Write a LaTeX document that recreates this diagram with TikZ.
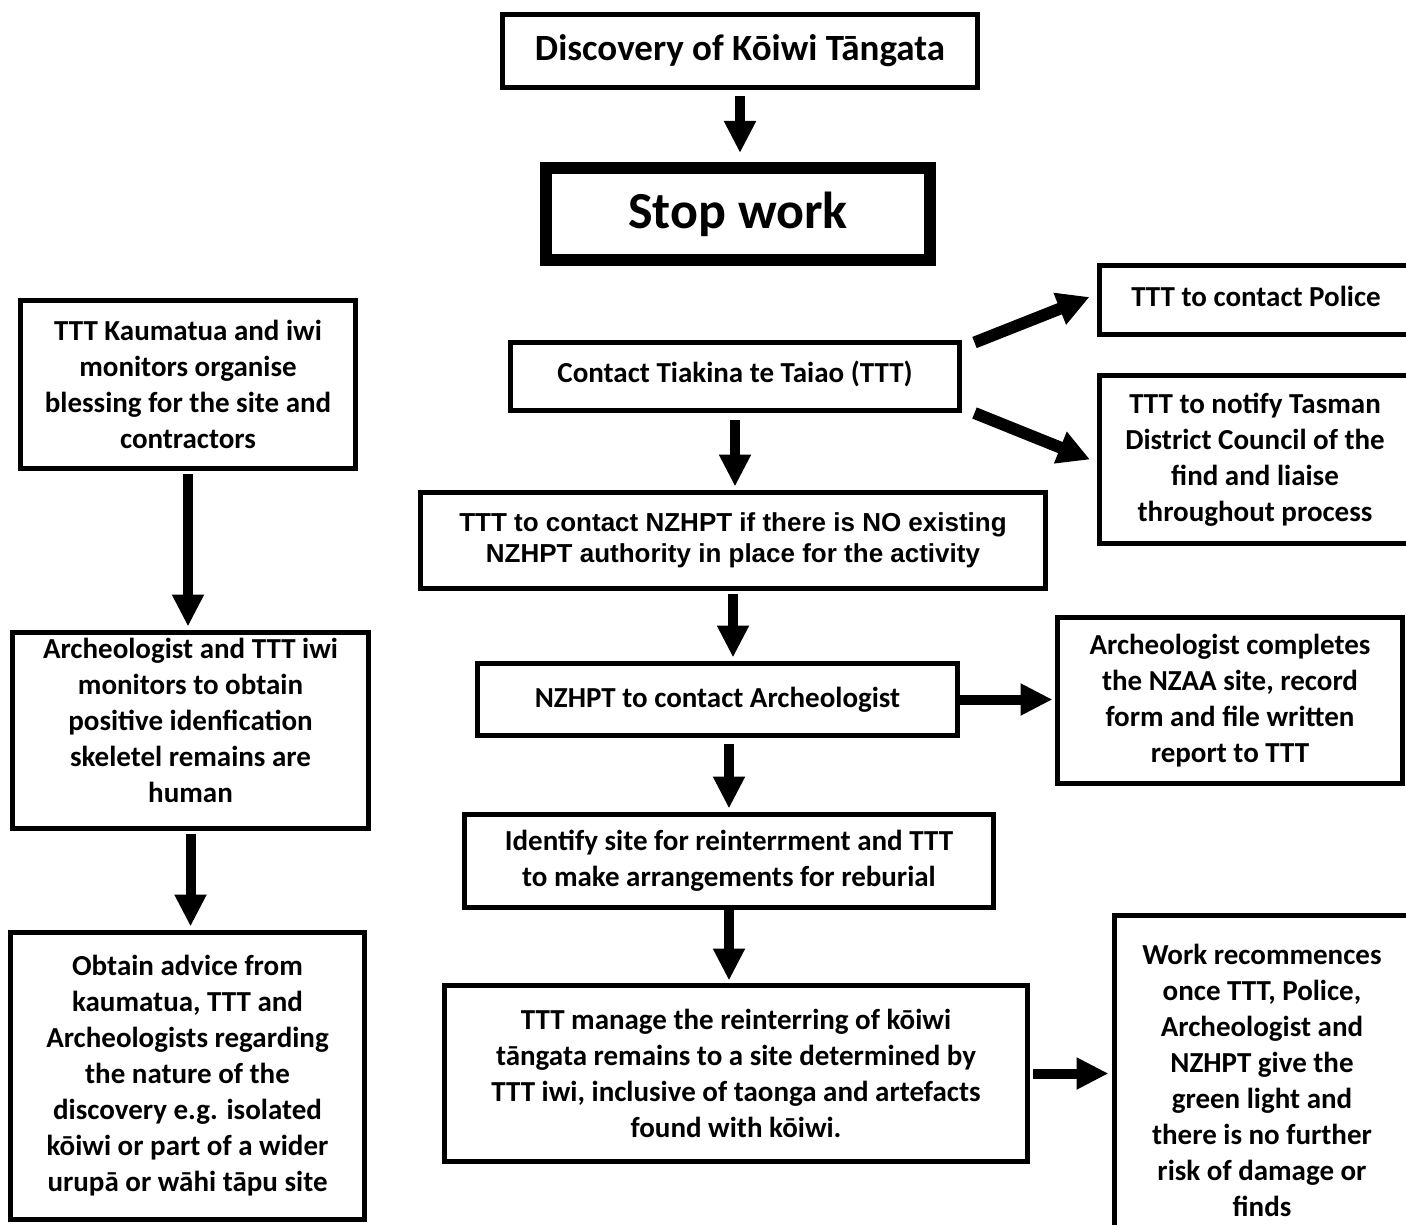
\documentclass[tikz,border=0pt]{standalone}
\usepackage{fontspec}
\setmainfont{Carlito}
\newfontfamily\arialfont{Liberation Sans}
\usetikzlibrary{arrows.meta}

\begin{document}
\begin{tikzpicture}[x=1pt,y=-1pt,
  box/.style={draw, line width=5pt, align=center, inner sep=0pt,
    font=\bfseries\fontsize{29}{36}\selectfont},
  arr/.style={line width=10pt, -{Triangle[width=30pt,length=32pt]},
    shorten <=3pt, shorten >=3.5pt}]
\useasboundingbox (0,0) rectangle (1406,1225);
\node [box, minimum width=475pt, minimum height=73pt, font=\bfseries\fontsize{37}{44}\selectfont] (disc) at (740,51) {Discovery of Kōiwi Tāngata};
\node [box, line width=12pt, minimum width=384pt, minimum height=92pt, font=\bfseries\fontsize{52}{60}\selectfont] (stop) at (738,214) {Stop work};
\node [box, minimum width=449pt, minimum height=68pt] (contact) at (735,376.5) {Contact Tiakina te Taiao (TTT)\\[-26pt]\mbox{}};
\node [box, minimum width=313pt, minimum height=69pt] (police) at (1256,300) {TTT to contact Police\\[-28pt]\mbox{}};
\node [box, minimum width=312pt, minimum height=168pt] (notify) at (1255,459.5) {TTT to notify Tasman\\District Council of the\\find and liaise\\throughout process};
\node [box, minimum width=625pt, minimum height=96pt, font=\arialfont\bfseries\fontsize{26}{31}\selectfont] (nzhpt) at (733,540.5) {TTT to contact NZHPT if there is NO existing\\NZHPT authority in place for the activity};
\node [box, minimum width=480pt, minimum height=72pt] (nzarch) at (717.5,699.5) {NZHPT to contact Archeologist};
\node [box, minimum width=345pt, minimum height=166pt] (record) at (1230,700.5) {Archeologist completes\\the NZAA site, record\\form and file written\\report to TTT};
\node [box, minimum width=529pt, minimum height=93pt] (identify) at (729,861) {Identify site for reinterrment and TTT\\to make arrangements for reburial};
\node [box, minimum width=583pt, minimum height=176pt] (manage) at (736,1073.5) {TTT manage the reinterring of kōiwi\\tāngata remains to a site determined by\\TTT iwi, inclusive of taonga and artefacts\\found with kōiwi.};
\node [box, minimum width=295pt, minimum height=330pt] (work) at (1262,1080) {Work recommences\\once TTT, Police,\\Archeologist and\\NZHPT give the\\green light and\\there is no further\\risk of damage or\\finds};
\node [box, minimum width=335pt, minimum height=168pt] (kaum) at (188,384.5) {TTT Kaumatua and iwi\\monitors organise\\blessing for the site and\\contractors};
\node [box, minimum width=356pt, minimum height=196pt] (archiwi) at (190.5,730.5) {Archeologist and TTT iwi\\monitors to obtain\\positive idenfication\\skeletel remains are\\human\\[-16pt]\mbox{}};
\node [box, minimum width=354pt, minimum height=287pt] (advice) at (187.5,1076) {Obtain advice from\\kaumatua, TTT and\\Archeologists regarding\\the nature of the\\discovery e.g. isolated\\kōiwi or part of a wider\\urupā or wāhi tāpu site};
\draw [arr, shorten <=6pt, shorten >=9pt] (disc.south) -- (disc.south |- stop.north);
\draw [arr, line width=12pt, -{Triangle[width=32pt,length=32pt]}, shorten <=0pt, shorten >=0pt] ([xshift=12.5pt,yshift=-2.5pt]contact.north east) -- ([xshift=-7.5pt,yshift=3pt]police.west);
\draw [arr, line width=12pt, -{Triangle[width=32pt,length=32pt]}, shorten <=0pt, shorten >=0pt] ([xshift=12.5pt]contact.south east) -- ([xshift=-6.5pt]notify.west);
\draw [arr, shorten <=7pt] (contact.south) -- (contact.south |- nzhpt.north);
\draw [arr] (nzhpt.south) -- (nzhpt.south |- nzarch.north);
\draw [arr, shorten <=0pt, shorten >=2.5pt] (nzarch.east) -- (nzarch.east -| record.west);
\draw [arr, shorten <=6pt] (nzarch.south -| identify.north) -- (identify.north);
\draw [arr, shorten <=0pt, shorten >=2.5pt] (identify.south) -- (identify.south |- manage.north);
\draw [arr] (manage.east) -- (manage.east -| work.west);
\draw [arr] (kaum.south) -- (kaum.south |- archiwi.north);
\draw [arr] (archiwi.south) -- (archiwi.south |- advice.north);
\end{tikzpicture}
\end{document}
